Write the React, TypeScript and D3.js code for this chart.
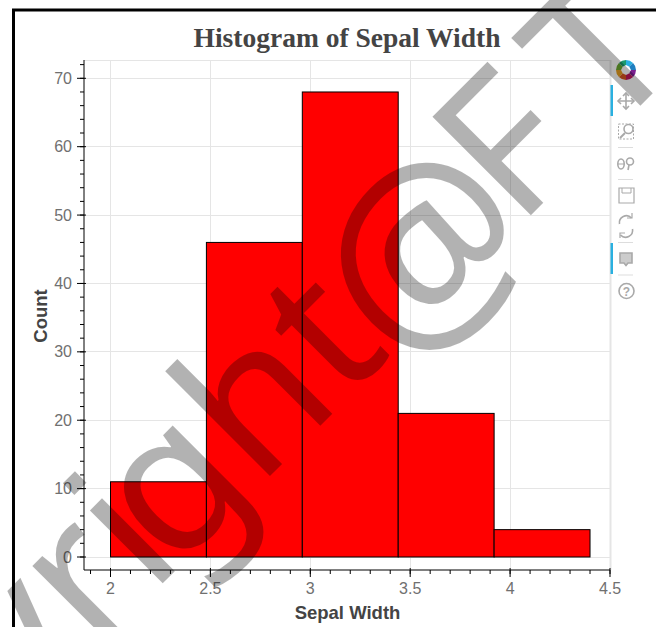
import React from "react";
import * as d3 from "d3";

const binEdges = [2, 2.48, 2.96, 3.44, 3.92, 4.4];
const counts = [11, 46, 68, 21, 4];
const xTicks = [2, 2.5, 3, 3.5, 4, 4.5];
const yTicks = [0, 10, 20, 30, 40, 50, 60, 70];
const xMinorTicks = d3.range(19, 46).map((d) => d / 10);
const yMinorTicks = d3.range(0, 74, 2);
const title = "Histogram of Sepal Width";
const xLabel = "Sepal Width";
const yLabel = "Count";
const logoColors = ["#2ab0e0", "#1f7fc0", "#7b1f8f", "#c2185b", "#d9541e", "#e8a020", "#6aa82e", "#1d9a6c"];

const W = 656;
const H = 627;
const plot = { left: 84, right: 610, top: 60, bottom: 570 };
const x = d3.scaleLinear().domain([2, 4.5]).range([110.5, 610]);
const y = d3.scaleLinear().domain([0, 70]).range([557, 78.3]);
const sans = "'Liberation Sans', Arial, sans-serif";
const serif = "'Liberation Serif', 'Times New Roman', serif";
const icon = "#a9a9a9";

function Toolbar() {
  const cx = 626;
  const ring = d3.arc();
  const logoArcs = d3.pie<string>().value(1).sort(null)(logoColors);
  return (
    <g>
      <g transform={`translate(${cx},70)`}>
        {logoArcs.map((a, i) => (
          <path key={i} fill={a.data} d={ring({ innerRadius: 4.5, outerRadius: 10, startAngle: a.startAngle, endAngle: a.endAngle } as any) as string} />
        ))}
        <polygon points="0,-5 5,0 0,5 -5,0" fill="#fff" />
      </g>
      <rect x={610.5} y={85} width={2.5} height={31} fill="#2ab0e0" />
      <rect x={610.5} y={243} width={2.5} height={31} fill="#2ab0e0" />
      <g stroke={icon} fill="none" strokeWidth={1.6}>
        <path d={`M${cx} 93v16M${cx - 8} 101h16`} />
        <path d={`M${cx - 3} 96l3-3 3 3M${cx - 3} 106l3 3 3-3M${cx - 5} 98l-3 3 3 3M${cx + 5} 98l3 3-3 3`} />
        <rect x={618.5} y={124} width={15} height={15} strokeDasharray="2 1.5" strokeWidth={1} />
        <circle cx={628.5} cy={129} r={4.5} fill="#fff" />
        <path d={`M625 133l-5 5`} strokeWidth={2} />
        <path d={`M618 147.5h15`} stroke="#ddd" strokeWidth={1} />
        <ellipse cx={621} cy={164} rx={3.2} ry={5} />
        <path d={`M618 164h6`} strokeWidth={1} />
        <circle cx={630} cy={161.5} r={3.5} />
        <path d={`M629 165l-1 5`} />
        <path d={`M618 179.5h15`} stroke="#ddd" strokeWidth={1} />
        <path d={`M619 188h15v15h-15z`} strokeWidth={1.2} />
        <path d={`M622 188v5h9v-5`} strokeWidth={1} />
        <path d={`M619.5 224a7 7 0 0 1 12-6M632.5 229a7 7 0 0 1-12 6`} />
        <path d={`M632 214v5h-5M620 239v-5h5`} strokeWidth={1.2} transform="translate(0,-1)" />
        <path d={`M618 242.5h15`} stroke="#ddd" strokeWidth={1} />
        <path d={`M620 253h12v10h-4l-2 2.5-2-2.5h-4z`} fill="#ccc" />
        <path d={`M618 275h15`} stroke="#ddd" strokeWidth={1} />
        <circle cx={626.5} cy={291} r={7.5} />
      </g>
      <text x={626.5} y={295.5} fontFamily={sans} fontSize={12} fontWeight="bold" fill={icon} textAnchor="middle">?</text>
    </g>
  );
}

export default function App() {
  return (
    <svg width={W} height={H} viewBox={`0 0 ${W} ${H}`} style={{ position: "absolute", left: 0, top: 0, background: "#fff" }}>
      <rect x={0} y={0} width={W} height={H} fill="#fff" />
      <path d={`M${W} 10H13.5V${H}`} fill="none" stroke="#000" strokeWidth={3} />
      <g stroke="#e5e5e5" strokeWidth={1} shapeRendering="crispEdges">
        {xTicks.map((t) => (
          <line key={t} x1={x(t)} x2={x(t)} y1={plot.top} y2={plot.bottom} />
        ))}
        {yTicks.map((t) => (
          <line key={t} x1={plot.left} x2={plot.right} y1={y(t)} y2={y(t)} />
        ))}
        <line x1={plot.left} x2={plot.right} y1={plot.top} y2={plot.top} />
      </g>
      <line x1={610.5} x2={610.5} y1={plot.top} y2={plot.bottom} stroke="#e5e5e5" strokeWidth={2} />
      {counts.map((c, i) => (
        <rect
          key={i}
          x={x(binEdges[i])}
          width={x(binEdges[i + 1]) - x(binEdges[i])}
          y={y(c)}
          height={y(0) - y(c)}
          fill="#ff0000"
          stroke="#000"
          strokeWidth={1}
        />
      ))}
      <g stroke="#000" strokeWidth={1}>
        <line x1={plot.left} x2={plot.left} y1={plot.top} y2={plot.bottom} />
        <line x1={plot.left} x2={plot.right} y1={plot.bottom} y2={plot.bottom} />
        {xMinorTicks.map((t) => (
          <line key={t} x1={x(t)} x2={x(t)} y1={plot.bottom} y2={plot.bottom + 4} />
        ))}
        {xTicks.map((t) => (
          <line key={t} x1={x(t)} x2={x(t)} y1={plot.bottom - 2} y2={plot.bottom + 7} />
        ))}
        {yMinorTicks.map((t) => (
          <line key={t} x1={plot.left - 4} x2={plot.left} y1={y(t)} y2={y(t)} />
        ))}
        {yTicks.map((t) => (
          <line key={t} x1={plot.left - 7} x2={plot.left + 2} y1={y(t)} y2={y(t)} />
        ))}
      </g>
      <g fontFamily={sans} fontSize={16} fill="#707070">
        {xTicks.map((t) => (
          <text key={t} x={x(t)} y={594} textAnchor="middle">{t}</text>
        ))}
        {yTicks.map((t) => (
          <text key={t} x={72} y={y(t) + 5.5} textAnchor="end">{t}</text>
        ))}
      </g>
      <text x={347} y={47} textAnchor="middle" fontFamily={serif} fontWeight="bold" fontSize={27.5} fill="#444">{title}</text>
      <text x={347.5} y={619} textAnchor="middle" fontFamily={sans} fontWeight="bold" fontSize={18.5} fill="#444">{xLabel}</text>
      <text transform="translate(46.5,316) rotate(-90)" textAnchor="middle" fontFamily={sans} fontWeight="bold" fontSize={18.5} fill="#444">{yLabel}</text>
      <Toolbar />
      <text transform="translate(-228.5,974.5) rotate(-45)" fontFamily="'Noto Sans', sans-serif" fontSize={195} fill="#000" fillOpacity={0.3}>
        <tspan>Copyr</tspan>
        <tspan dx={3} fontFamily={sans}>i</tspan>
        <tspan dx={-15}>ght</tspan>
        <tspan dx={-7} dy={26} fontSize={222}>@</tspan>
        <tspan dx={-17} dy={-26}>F</tspan>
        <tspan dx={27}>T</tspan>
      </text>
    </svg>
  );
}
